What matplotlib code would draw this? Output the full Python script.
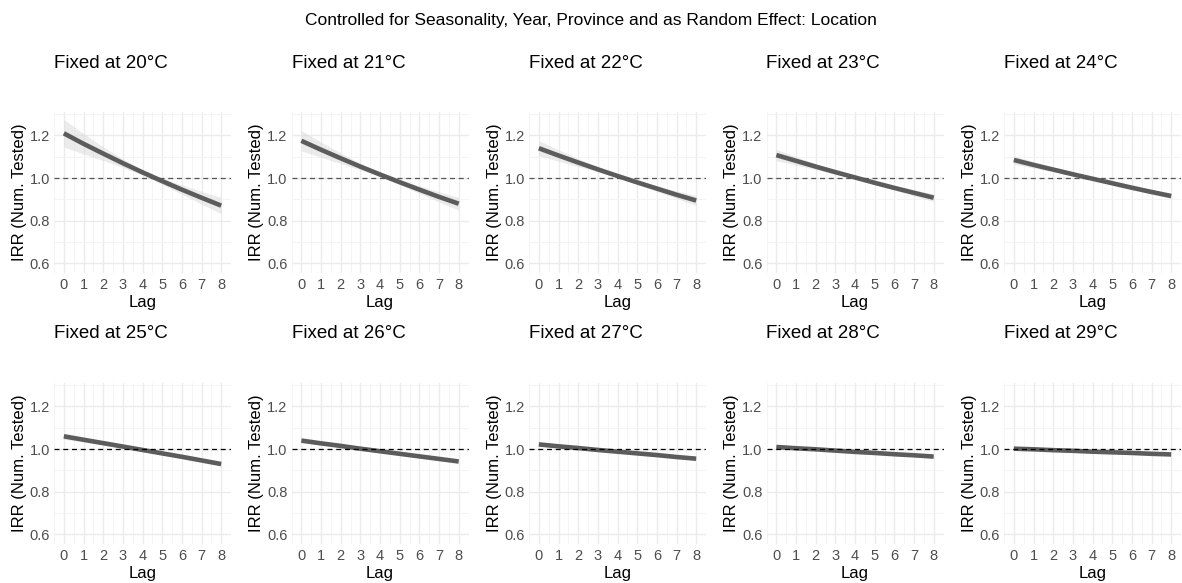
from matplotlib import pyplot as plt

plt.rcParams['font.family'] = ['Liberation Sans', 'DejaVu Sans']

temps = [20, 21, 22, 23, 24, 25, 26, 27, 28, 29]
lags = [0, 1, 2, 3, 4, 5, 6, 7, 8]

# estimated IRR per lag, one list per fixed temperature
irr_20 = [1.210, 1.161, 1.115, 1.070, 1.027, 0.986, 0.946, 0.908, 0.871]
irr_21 = [1.175, 1.133, 1.093, 1.054, 1.017, 0.981, 0.946, 0.912, 0.880]
irr_22 = [1.140, 1.106, 1.073, 1.041, 1.010, 0.980, 0.951, 0.922, 0.895]
irr_23 = [1.108, 1.081, 1.054, 1.028, 1.003, 0.978, 0.954, 0.931, 0.908]
irr_24 = [1.085, 1.062, 1.040, 1.018, 0.997, 0.976, 0.955, 0.935, 0.916]
irr_25 = [1.060, 1.044, 1.028, 1.012, 0.996, 0.980, 0.964, 0.947, 0.930]
irr_26 = [1.040, 1.027, 1.015, 1.002, 0.990, 0.978, 0.966, 0.954, 0.942]
irr_27 = [1.022, 1.013, 1.005, 0.996, 0.988, 0.980, 0.972, 0.963, 0.955]
irr_28 = [1.010, 1.004, 0.999, 0.993, 0.987, 0.982, 0.976, 0.971, 0.965]
irr_29 = [1.002, 0.999, 0.995, 0.992, 0.988, 0.985, 0.982, 0.978, 0.975]

# half width of the confidence band per lag
hw_20 = [0.065, 0.048, 0.032, 0.020, 0.013, 0.015, 0.022, 0.030, 0.038]
hw_21 = [0.048, 0.036, 0.025, 0.016, 0.010, 0.012, 0.018, 0.024, 0.030]
hw_22 = [0.036, 0.027, 0.019, 0.012, 0.008, 0.009, 0.013, 0.018, 0.023]
hw_23 = [0.027, 0.020, 0.014, 0.009, 0.006, 0.007, 0.010, 0.014, 0.018]
hw_24 = [0.020, 0.015, 0.010, 0.007, 0.005, 0.005, 0.008, 0.010, 0.013]
hw_25 = [0.014, 0.011, 0.008, 0.005, 0.004, 0.004, 0.006, 0.008, 0.010]
hw_26 = [0.010, 0.008, 0.006, 0.004, 0.003, 0.003, 0.004, 0.006, 0.007]
hw_27 = [0.007, 0.005, 0.004, 0.003, 0.002, 0.002, 0.003, 0.004, 0.005]
hw_28 = [0.005, 0.004, 0.003, 0.002, 0.002, 0.002, 0.002, 0.003, 0.004]
hw_29 = [0.004, 0.003, 0.002, 0.002, 0.001, 0.001, 0.002, 0.002, 0.003]

irrs = [irr_20, irr_21, irr_22, irr_23, irr_24, irr_25, irr_26, irr_27, irr_28, irr_29]
hws = [hw_20, hw_21, hw_22, hw_23, hw_24, hw_25, hw_26, hw_27, hw_28, hw_29]

W, H = 1182, 583
fig = plt.figure(figsize=(W / 100, H / 100), dpi=100)
fig.text(0.5, 1 - 20 / H, 'Controlled for Seasonality, Year, Province and as Random Effect: Location',
         ha='center', va='center', fontsize=12.5)

tops = [112, 383]
for i, t in enumerate(temps):
    row, col = divmod(i, 5)
    left = 54 + col * 237.5
    top = tops[row]
    ax = fig.add_axes([left / W, 1 - (top + 161) / H, 177 / W, 161 / H])
    est = irrs[i]
    lo = [e - h for e, h in zip(est, hws[i])]
    hi = [e + h for e, h in zip(est, hws[i])]
    ax.fill_between(lags, lo, hi, color='#d9d9d9', alpha=0.5, lw=0, zorder=2)
    ax.plot(lags, est, color='#5c5c5c', lw=3.3, solid_capstyle='butt', zorder=3)
    ax.axhline(1.0, color='#555555' if row == 0 else 'black', lw=0.9, ls=(0, (4, 3)), zorder=4)
    ax.set_xlim(-0.45, 8.4)
    ax.set_ylim(0.555, 1.31)
    ax.set_xticks(lags)
    ax.set_yticks([0.6, 0.8, 1.0, 1.2])
    ax.set_yticklabels(['0.6', '0.8', '1.0', '1.2'])
    ax.set_xticks([x + 0.5 for x in range(-1, 9)], minor=True)
    ax.set_yticks([0.7, 0.9, 1.1, 1.3], minor=True)
    ax.grid(which='major', color='#ebebeb', lw=1.0, zorder=0)
    ax.grid(which='minor', color='#f3f3f3', lw=0.6, zorder=0)
    ax.set_axisbelow(True)
    for s in ax.spines.values():
        s.set_visible(False)
    ax.tick_params(which='both', length=0, labelsize=10.5, labelcolor='#4d4d4d', pad=3)
    ax.tick_params(axis='x', pad=3.5)
    ax.set_xlabel('Lag', fontsize=12, labelpad=2)
    ax.set_ylabel('IRR (Num. Tested)', fontsize=12, labelpad=2)
    ax.text(0.0, 1 + 49 / 161, 'Fixed at %d°C' % t, transform=ax.transAxes,
            ha='left', va='center', fontsize=13.5)

fig.savefig('out.png', dpi=100)
